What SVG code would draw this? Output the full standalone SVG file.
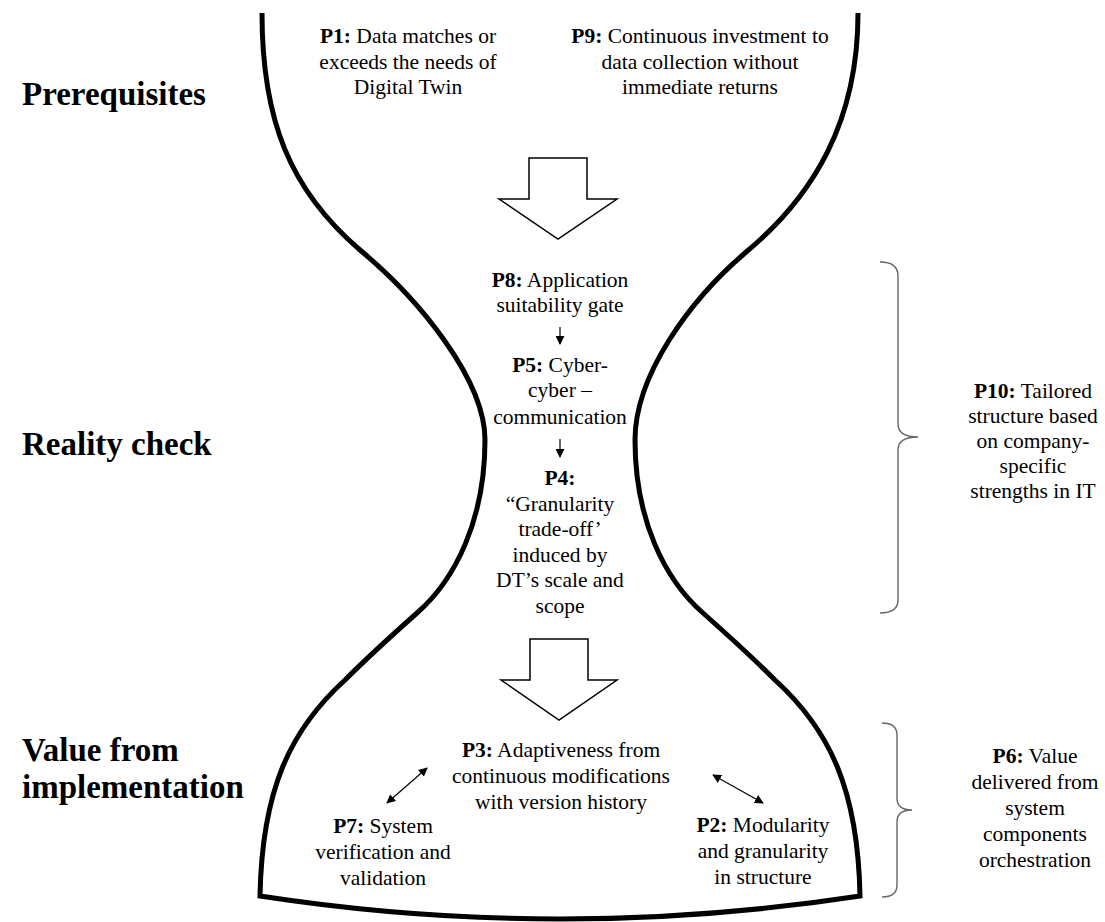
<svg xmlns="http://www.w3.org/2000/svg" width="1105" height="922" viewBox="0 0 1105 922">
<style>
.t{font-family:"Liberation Serif","Times New Roman",serif;font-size:21.5px;fill:#000;text-anchor:middle}
.h{font-family:"Liberation Serif","Times New Roman",serif;font-size:33px;font-weight:bold;fill:#000}
.b{font-weight:bold}
.outline{fill:none;stroke:#000;stroke-width:5;stroke-linejoin:miter}
.big{fill:#fff;stroke:#000;stroke-width:1.5}
.thin{stroke:#000;stroke-width:1.2;fill:none}
.brace{fill:none;stroke:#666;stroke-width:1.4}
</style>
<defs>
<marker id="ah" viewBox="0 0 10 10" refX="9" refY="5" markerWidth="9" markerHeight="9" markerUnits="userSpaceOnUse" orient="auto-start-reverse">
<path d="M0,0 L10,5 L0,10 z" fill="#000"/>
</marker>
</defs>
<rect width="1105" height="922" fill="#fff"/>

<g id="hourglass">
<path class="outline" d="M262,13 C262,120 290,190 360,250 C420,300 485,380 485,440 C485,520 455,580 417,613 C390,637 370,655 345,680 C290,730 262,790 260,896 Q560,942 860,896 C858,790 830,730 775,680 C750,655 730,637 703,613 C665,580 635,520 635,440 C635,375 690,300 745,253 C815,195 858,120 858,13"/>
</g>

<g id="labels">
<text class="h" x="22" y="105">Prerequisites</text>
<text class="h" x="22" y="455">Reality check</text>
<text class="h" x="22" y="761">Value from</text>
<text class="h" x="22" y="798">implementation</text>
</g>

<g id="arrow-top">
<path class="big" d="M529,158 L587,158 L587,199 L617,199 L558,239 L499,199 L529,199 Z"/>
</g>
<g id="arrow-bottom">
<path class="big" d="M530,639 L588,639 L588,680 L617,680 L559,720 L501,680 L530,680 Z"/>
</g>

<g id="P1">
<text class="t" x="408" y="43"><tspan class="b">P1:</tspan> Data matches or</text>
<text class="t" x="408" y="68.5">exceeds the needs of</text>
<text class="t" x="408" y="94">Digital Twin</text>
</g>
<g id="P9">
<text class="t" x="700" y="43"><tspan class="b">P9:</tspan> Continuous investment to</text>
<text class="t" x="700" y="68.5">data collection without</text>
<text class="t" x="700" y="94">immediate returns</text>
</g>

<g id="P8">
<text class="t" x="560" y="287"><tspan class="b">P8:</tspan> Application</text>
<text class="t" x="560" y="312">suitability gate</text>
</g>
<g id="P5">
<text class="t" x="560" y="372"><tspan class="b">P5:</tspan> Cyber-</text>
<text class="t" x="560" y="397">cyber –</text>
<text class="t" x="560" y="424">communication</text>
</g>
<g id="P4">
<text class="t b" x="560" y="485">P4:</text>
<text class="t" x="560" y="511">“Granularity</text>
<text class="t" x="560" y="536">trade-off’</text>
<text class="t" x="560" y="562">induced by</text>
<text class="t" x="560" y="587">DT’s scale and</text>
<text class="t" x="560" y="613">scope</text>
</g>

<g id="P3">
<text class="t" x="561" y="757"><tspan class="b">P3:</tspan> Adaptiveness from</text>
<text class="t" x="561" y="783">continuous modifications</text>
<text class="t" x="561" y="809">with version history</text>
</g>
<g id="P7">
<text class="t" x="383" y="833"><tspan class="b">P7:</tspan> System</text>
<text class="t" x="383" y="859">verification and</text>
<text class="t" x="383" y="885">validation</text>
</g>
<g id="P2">
<text class="t" x="763" y="832"><tspan class="b">P2:</tspan> Modularity</text>
<text class="t" x="763" y="858">and granularity</text>
<text class="t" x="763" y="884">in structure</text>
</g>

<g id="P10">
<text class="t" x="1033" y="398"><tspan class="b">P10:</tspan> Tailored</text>
<text class="t" x="1033" y="423">structure based</text>
<text class="t" x="1033" y="448">on company-</text>
<text class="t" x="1033" y="473">specific</text>
<text class="t" x="1033" y="498">strengths in IT</text>
</g>
<g id="P6">
<text class="t" x="1035" y="763"><tspan class="b">P6:</tspan> Value</text>
<text class="t" x="1035" y="789">delivered from</text>
<text class="t" x="1035" y="815">system</text>
<text class="t" x="1035" y="841">components</text>
<text class="t" x="1035" y="867">orchestration</text>
</g>

<g id="connectors">
<line class="thin" x1="560" y1="327" x2="560" y2="344" marker-end="url(#ah)"/>
<line class="thin" x1="560" y1="439" x2="560" y2="457" marker-end="url(#ah)"/>
<line class="thin" x1="387" y1="803" x2="427" y2="768" marker-start="url(#ah)" marker-end="url(#ah)"/>
<line class="thin" x1="713" y1="775" x2="763" y2="803" marker-start="url(#ah)" marker-end="url(#ah)"/>
<path class="brace" d="M880,262 Q898,262 898,276 L898,424 Q898,437 918,437 Q898,437 898,450 L898,600 Q898,613 880,613"/>
<path class="brace" d="M882,723 Q897,723 897,735 L897,798 Q897,810 912,810 Q897,810 897,822 L897,885 Q897,897 882,897"/>
</g>
</svg>
